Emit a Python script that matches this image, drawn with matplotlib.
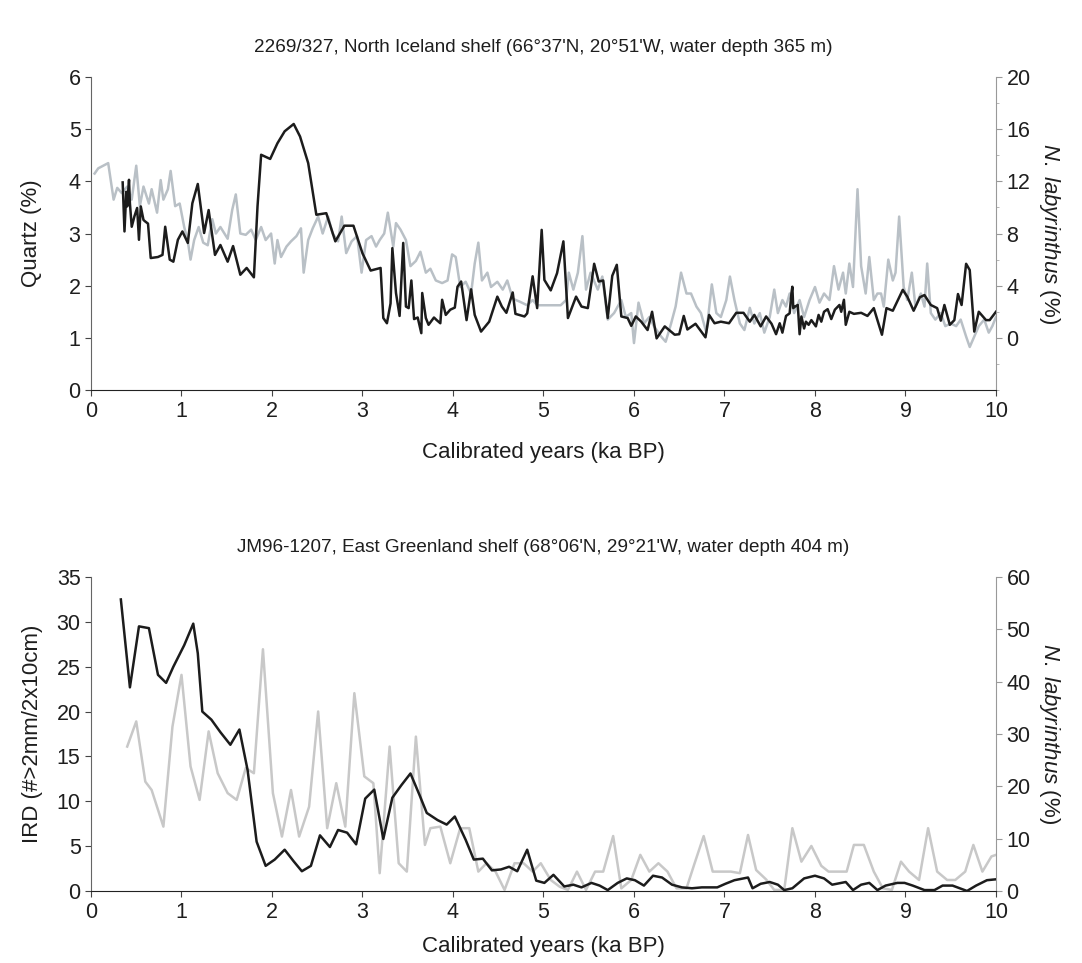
import matplotlib
matplotlib.use("Agg")
import matplotlib.pyplot as plt
from matplotlib.ticker import MultipleLocator

plt.rcParams['font.family'] = ['Liberation Sans', 'DejaVu Sans']
plt.rcParams['mathtext.fontset'] = 'custom'
plt.rcParams['mathtext.it'] = 'Liberation Sans:italic'
plt.rcParams['mathtext.rm'] = 'Liberation Sans'

# --- top core 2269/327: quartz (%) ---
qz_age = [0.35, 0.37, 0.39, 0.40, 0.42, 0.43, 0.45, 0.48, 0.51, 0.53, 0.55, 0.58, 0.60, 0.63,
          0.66, 0.74, 0.79, 0.82, 0.87, 0.91, 0.96, 1.01, 1.07, 1.12, 1.18, 1.25, 1.30, 1.37,
          1.43, 1.51, 1.57, 1.65, 1.72, 1.80, 1.84, 1.88, 1.98, 2.06, 2.14, 2.24, 2.31, 2.40,
          2.49, 2.60, 2.70, 2.80, 2.90, 3.00, 3.09, 3.20, 3.23, 3.27, 3.31, 3.33, 3.37, 3.41,
          3.45, 3.48, 3.51, 3.54, 3.57, 3.61, 3.65, 3.66, 3.70, 3.73, 3.79, 3.82, 3.86, 3.88,
          3.92, 3.97, 4.02, 4.05, 4.09, 4.15, 4.20, 4.24, 4.31, 4.40, 4.49, 4.54, 4.59, 4.66,
          4.69, 4.79, 4.82, 4.88, 4.93, 4.98, 5.01, 5.08, 5.15, 5.22, 5.27, 5.36, 5.42, 5.49,
          5.56, 5.61, 5.66, 5.71, 5.76, 5.81, 5.86, 5.93, 5.97, 6.02, 6.08, 6.15, 6.20, 6.25,
          6.34, 6.45, 6.50, 6.55, 6.59, 6.68, 6.79, 6.83, 6.89, 6.96, 7.05, 7.13, 7.21, 7.28,
          7.33, 7.40, 7.46, 7.52, 7.57, 7.61, 7.64, 7.68, 7.72, 7.74, 7.75, 7.76, 7.78, 7.81,
          7.83, 7.85, 7.88, 7.90, 7.93, 7.96, 8.01, 8.04, 8.07, 8.10, 8.14, 8.18, 8.22, 8.27,
          8.29, 8.32, 8.34, 8.38, 8.43, 8.51, 8.58, 8.65, 8.69, 8.74, 8.79, 8.86, 8.91, 8.97,
          9.02, 9.09, 9.16, 9.21, 9.28, 9.35, 9.39, 9.43, 9.49, 9.54, 9.58, 9.62, 9.67, 9.71,
          9.76, 9.81, 9.89, 9.93, 10.0]
qz_val = [3.98, 3.04, 3.80, 3.52, 4.03, 3.58, 3.13, 3.33, 3.49, 2.88, 3.52, 3.26, 3.23, 3.19,
          2.53, 2.55, 2.59, 3.13, 2.50, 2.46, 2.88, 3.04, 2.82, 3.58, 3.95, 3.01, 3.45, 2.59,
          2.78, 2.46, 2.76, 2.21, 2.34, 2.16, 3.52, 4.51, 4.43, 4.73, 4.96, 5.10, 4.86, 4.35,
          3.36, 3.39, 2.85, 3.15, 3.15, 2.62, 2.29, 2.34, 1.38, 1.28, 1.66, 2.72, 1.86, 1.42,
          2.82, 1.60, 1.57, 2.10, 1.36, 1.39, 1.09, 1.86, 1.38, 1.25, 1.39, 1.34, 1.28, 1.73,
          1.44, 1.54, 1.58, 1.98, 2.08, 1.34, 1.93, 1.44, 1.12, 1.31, 1.79, 1.60, 1.48, 1.87,
          1.46, 1.41, 1.47, 2.18, 1.57, 3.07, 2.11, 1.91, 2.24, 2.85, 1.38, 1.79, 1.60, 1.57,
          2.42, 2.08, 2.10, 1.38, 2.19, 2.40, 1.41, 1.38, 1.23, 1.41, 1.31, 1.15, 1.50, 0.99,
          1.22, 1.06, 1.07, 1.42, 1.16, 1.27, 1.01, 1.44, 1.28, 1.31, 1.28, 1.48, 1.48, 1.31,
          1.44, 1.22, 1.41, 1.27, 1.07, 1.28, 1.10, 1.42, 1.47, 1.86, 1.98, 1.57, 1.60, 1.63,
          1.07, 1.41, 1.18, 1.31, 1.25, 1.34, 1.22, 1.44, 1.31, 1.50, 1.55, 1.36, 1.54, 1.63,
          1.50, 1.73, 1.25, 1.50, 1.46, 1.48, 1.42, 1.57, 1.34, 1.06, 1.57, 1.52, 1.70, 1.92,
          1.79, 1.52, 1.78, 1.82, 1.63, 1.57, 1.33, 1.63, 1.25, 1.34, 1.84, 1.63, 2.42, 2.30,
          1.12, 1.50, 1.34, 1.34, 1.50]

# --- top core: N. labyrinthus (%) ---
nl1_age = [0.04, 0.08, 0.19, 0.25, 0.29, 0.34, 0.40, 0.45, 0.50, 0.54, 0.58, 0.64, 0.67, 0.73,
           0.77, 0.80, 0.85, 0.88, 0.93, 0.98, 1.03, 1.07, 1.10, 1.14, 1.19, 1.24, 1.29, 1.34,
           1.38, 1.43, 1.51, 1.56, 1.60, 1.65, 1.71, 1.77, 1.82, 1.88, 1.93, 1.99, 2.03, 2.06,
           2.10, 2.16, 2.21, 2.27, 2.32, 2.35, 2.40, 2.45, 2.51, 2.56, 2.62, 2.67, 2.73, 2.77,
           2.82, 2.88, 2.94, 2.99, 3.04, 3.10, 3.15, 3.19, 3.24, 3.28, 3.34, 3.37, 3.42, 3.48,
           3.53, 3.59, 3.64, 3.70, 3.75, 3.81, 3.88, 3.94, 3.99, 4.03, 4.08, 4.14, 4.20, 4.24,
           4.28, 4.32, 4.38, 4.42, 4.49, 4.55, 4.60, 4.66, 4.73, 4.82, 4.88, 4.93, 5.01, 5.19,
           5.25, 5.28, 5.33, 5.38, 5.43, 5.47, 5.52, 5.60, 5.65, 5.71, 5.78, 5.86, 5.91, 5.97,
           6.00, 6.05, 6.11, 6.17, 6.22, 6.30, 6.35, 6.41, 6.46, 6.52, 6.58, 6.63, 6.69, 6.74,
           6.80, 6.86, 6.91, 6.96, 7.02, 7.06, 7.11, 7.17, 7.22, 7.28, 7.33, 7.39, 7.44, 7.50,
           7.55, 7.59, 7.64, 7.68, 7.72, 7.77, 7.83, 7.88, 7.94, 8.00, 8.05, 8.10, 8.16, 8.21,
           8.26, 8.31, 8.34, 8.38, 8.42, 8.47, 8.51, 8.56, 8.60, 8.65, 8.69, 8.73, 8.76, 8.81,
           8.86, 8.89, 8.93, 8.98, 9.02, 9.07, 9.11, 9.17, 9.21, 9.24, 9.28, 9.33, 9.39, 9.44,
           9.50, 9.56, 9.61, 9.67, 9.71, 9.76, 9.81, 9.87, 9.92, 9.96, 10.0]
nl1_val = [12.6, 13.0, 13.4, 10.6, 11.5, 11.1, 11.6, 10.6, 13.2, 10.1, 11.6, 10.3, 11.4, 9.6,
           12.1, 10.6, 11.4, 12.8, 10.1, 10.3, 8.5, 7.4, 6.0, 7.5, 8.5, 7.3, 7.1, 9.1,
           8.0, 8.5, 7.6, 9.8, 11.0, 8.0, 7.9, 8.3, 7.5, 8.5, 7.5, 8.0, 5.7, 7.5,
           6.2, 7.0, 7.4, 7.8, 8.4, 5.0, 7.5, 8.4, 9.3, 8.0, 9.3, 8.0, 7.4, 9.3,
           6.5, 7.4, 7.8, 5.0, 7.5, 7.8, 7.0, 7.5, 8.0, 9.6, 7.0, 8.8, 8.3, 7.5,
           5.5, 5.9, 6.6, 5.0, 5.3, 4.4, 4.2, 4.4, 6.4, 6.2, 3.9, 4.3, 3.4, 5.7,
           7.3, 4.4, 5.0, 3.9, 4.3, 3.7, 4.4, 3.0, 2.8, 2.5, 2.9, 2.5, 2.5, 2.5,
           2.9, 5.0, 3.7, 5.0, 7.8, 3.7, 5.0, 3.7, 4.7, 1.4, 1.9, 2.9, 1.6, 1.9,
           -0.4, 2.7, 1.1, 1.6, 0.9, 0.1, -0.3, 1.1, 2.4, 5.0, 3.4, 3.4, 2.4, 1.9,
           0.4, 4.1, 1.9, 1.6, 2.9, 4.7, 2.9, 1.1, 0.6, 2.3, 1.1, 1.9, 0.4, 1.6,
           3.7, 1.9, 2.9, 2.4, 3.4, 1.9, 2.9, 1.6, 2.9, 3.9, 2.7, 3.4, 2.9, 5.5,
           3.7, 5.0, 3.4, 5.7, 3.9, 11.4, 5.5, 3.4, 6.2, 2.9, 3.4, 3.4, 2.4, 6.0,
           4.4, 5.0, 9.3, 3.9, 2.9, 5.0, 2.4, 3.4, 2.4, 5.7, 1.9, 1.4, 1.9, 0.9,
           1.1, 0.9, 1.4, 0.1, -0.7, 0.1, 0.9, 1.4, 0.4, 0.9, 1.6]

# --- bottom core JM96-1207: IRD ---
ird_age = [0.33, 0.43, 0.53, 0.64, 0.74, 0.83, 0.91, 1.03, 1.13, 1.18, 1.23, 1.33, 1.43, 1.54,
           1.64, 1.73, 1.83, 1.93, 2.03, 2.14, 2.24, 2.33, 2.43, 2.53, 2.64, 2.73, 2.83, 2.93,
           3.03, 3.13, 3.23, 3.33, 3.43, 3.53, 3.63, 3.71, 3.83, 3.93, 4.02, 4.14, 4.23, 4.33,
           4.43, 4.53, 4.62, 4.71, 4.82, 4.92, 5.01, 5.11, 5.23, 5.33, 5.42, 5.53, 5.62, 5.71,
           5.82, 5.92, 6.01, 6.11, 6.21, 6.31, 6.42, 6.53, 6.64, 6.75, 6.92, 7.01, 7.11, 7.26,
           7.31, 7.40, 7.50, 7.59, 7.66, 7.75, 7.88, 8.00, 8.10, 8.19, 8.34, 8.42, 8.51, 8.60,
           8.69, 8.78, 8.91, 8.99, 9.08, 9.21, 9.32, 9.41, 9.52, 9.68, 9.78, 9.90, 10.0]
ird_val = [32.5, 22.7, 29.5, 29.3, 24.1, 23.2, 25.0, 27.4, 29.8, 26.5, 20.0, 19.1, 17.7, 16.3,
           18.0, 13.5, 5.5, 2.8, 3.5, 4.6, 3.3, 2.2, 2.8, 6.2, 4.9, 6.8, 6.5, 5.2,
           10.3, 11.3, 5.8, 10.4, 11.8, 13.1, 10.7, 8.7, 7.9, 7.4, 8.3, 5.7, 3.5, 3.6,
           2.3, 2.4, 2.7, 2.2, 4.6, 1.15, 0.9, 1.8, 0.5, 0.7, 0.4, 0.9, 0.6, 0.1,
           0.9, 1.4, 1.2, 0.6, 1.7, 1.5, 0.7, 0.4, 0.3, 0.4, 0.4, 0.8, 1.2, 1.5,
           0.3, 0.8, 1.0, 0.7, 0.1, 0.3, 1.4, 1.7, 1.4, 0.7, 1.0, 0.1, 0.7, 0.9,
           0.1, 0.6, 0.9, 0.9, 0.6, 0.1, 0.1, 0.6, 0.6, 0.0, 0.6, 1.2, 1.3]

# --- bottom core: N. labyrinthus (%) ---
nl2_age = [0.40, 0.50, 0.60, 0.67, 0.80, 0.90, 1.00, 1.10, 1.20, 1.30, 1.40, 1.51, 1.61, 1.71,
           1.80, 1.90, 2.01, 2.11, 2.21, 2.30, 2.41, 2.51, 2.61, 2.71, 2.81, 2.91, 3.02, 3.12,
           3.19, 3.30, 3.40, 3.49, 3.59, 3.69, 3.75, 3.86, 3.97, 4.08, 4.18, 4.28, 4.37, 4.47,
           4.57, 4.68, 4.78, 4.88, 4.97, 5.08, 5.18, 5.27, 5.37, 5.47, 5.57, 5.66, 5.77, 5.86,
           5.97, 6.07, 6.17, 6.27, 6.37, 6.47, 6.58, 6.67, 6.77, 6.87, 6.97, 7.07, 7.17, 7.26,
           7.35, 7.46, 7.55, 7.66, 7.75, 7.85, 7.96, 8.07, 8.15, 8.25, 8.35, 8.43, 8.54, 8.65,
           8.75, 8.85, 8.95, 9.04, 9.15, 9.25, 9.35, 9.46, 9.55, 9.66, 9.75, 9.85, 9.95, 10.0]
nl2_val = [27.6, 32.4, 20.9, 19.3, 12.3, 31.4, 41.3, 23.8, 17.4, 30.5, 22.5, 18.7, 17.4, 23.5,
           22.5, 46.2, 18.7, 10.4, 19.3, 10.4, 16.1, 34.3, 12.0, 20.6, 12.3, 37.8, 21.9, 20.6,
           3.4, 27.6, 5.3, 3.7, 29.5, 8.8, 12.0, 12.3, 5.3, 12.0, 12.0, 3.7, 5.3, 3.7,
           0.2, 5.3, 5.3, 3.7, 5.3, 2.1, 0.8, 0.2, 3.7, 0.2, 3.7, 3.7, 10.5, 0.5,
           2.1, 6.9, 3.7, 5.3, 3.7, 0.5, 0.5, 5.3, 10.5, 3.7, 3.7, 3.7, 3.4, 10.7,
           4.0, 2.2, 0.2, 0.2, 12.0, 5.6, 8.6, 4.8, 3.7, 3.7, 3.7, 8.8, 8.8, 3.7,
           0.5, 0.2, 5.6, 3.7, 2.1, 12.0, 3.7, 2.1, 2.1, 3.7, 8.8, 3.7, 6.6, 6.9]

x_ticks = list(range(0, 11))
dark = '#1c1c1c'
txt = '#1e1e1e'
grey_top = '#b9c0c6'
grey_bot = '#c8c8c8'

fig = plt.figure(figsize=(10.82, 9.63), dpi=100)
ax1 = fig.add_axes([0.0841, 0.595, 0.8364, 0.325])
ax2 = fig.add_axes([0.0841, 0.0748, 0.8364, 0.326])


def style(ax, axr, xpad):
    ax.spines['top'].set_visible(False)
    axr.spines['top'].set_visible(False)
    ax.spines['right'].set_visible(False)
    axr.spines['left'].set_visible(False)
    axr.spines['bottom'].set_visible(False)
    ax.spines['left'].set_color('#666666')
    ax.spines['bottom'].set_color('#222222')
    axr.spines['right'].set_color('#999999')
    ax.set_xlim(0, 10)
    ax.set_xticks(x_ticks)
    ax.tick_params(labelsize=15.5, length=4, color='#444444', labelcolor=txt)
    ax.tick_params(axis='x', pad=4)
    axr.tick_params(labelsize=15.5, length=4, color='#999999', labelcolor=txt)
    ax.set_xlabel("Calibrated years (ka BP)", fontsize=16, color=txt, labelpad=xpad)


# top panel
ax1r = ax1.twinx()
ax1.set_zorder(ax1r.get_zorder() + 1)
ax1.patch.set_visible(False)
ax1r.plot(nl1_age, nl1_val, color=grey_top, lw=1.8)
ax1.plot(qz_age, qz_val, color=dark, lw=1.8)
ax1.set_ylim(0, 6)
ax1r.set_ylim(-4, 20)
ax1r.set_yticks([0, 4, 8, 12, 16, 20])
ax1r.yaxis.set_minor_locator(MultipleLocator(2))
ax1r.tick_params(which='minor', length=2.5, color='#aaaaaa')
style(ax1, ax1r, 14)
ax1.set_ylabel("Quartz (%)", fontsize=16, color=txt, labelpad=19)
ax1r.set_ylabel(r"$\mathit{N.\ labyrinthus}$ (%)", fontsize=16, color=txt,
                rotation=270, labelpad=23)
ax1.set_title("2269/327, North Iceland shelf (66°37'N, 20°51'W, water depth 365 m)",
              fontsize=13.6, color=txt, pad=18)

# bottom panel
ax2r = ax2.twinx()
ax2.set_zorder(ax2r.get_zorder() + 1)
ax2.patch.set_visible(False)
ax2r.plot(nl2_age, nl2_val, color=grey_bot, lw=1.8)
ax2.plot(ird_age, ird_val, color=dark, lw=1.8)
ax2.set_ylim(0, 35)
ax2.set_yticks(range(0, 36, 5))
ax2r.set_ylim(0, 60)
ax2r.set_yticks(range(0, 61, 10))
style(ax2, ax2r, 9)
ax2.set_ylabel("IRD (#>2mm/2x10cm)", fontsize=16, color=txt, labelpad=10)
ax2r.set_ylabel(r"$\mathit{N.\ labyrinthus}$ (%)", fontsize=16, color=txt,
                rotation=270, labelpad=23)
ax2.set_title("JM96-1207, East Greenland shelf (68°06'N, 29°21'W, water depth 404 m)",
              fontsize=13.6, color=txt, pad=18)

fig.savefig("out.png", dpi=100)
